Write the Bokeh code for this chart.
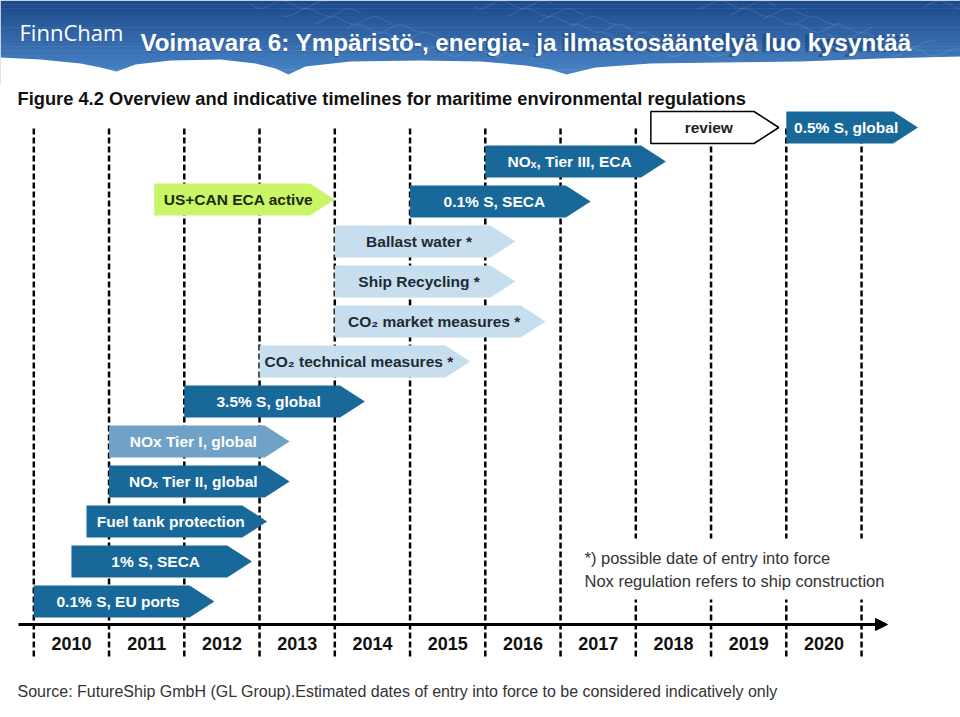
from bokeh.plotting import figure
from bokeh.models import Range1d, Arrow, NormalHead
from bokeh.core.properties import value
from bokeh.embed import file_html
from bokeh.resources import INLINE
import math

# ---------------- data ----------------
labels = ["0.1% S, EU ports", "1% S, SECA", "Fuel tank protection", "NOₓ Tier II, global",
          "NOx Tier I, global", "3.5% S, global", "CO₂ technical measures *",
          "CO₂ market measures *", "Ship Recycling *", "Ballast water *",
          "0.1% S, SECA", "US+CAN ECA active", "NOₓ, Tier III, ECA", "review", "0.5% S, global"]
start_year = [2010.0, 2010.5, 2010.7, 2011.0, 2011.0, 2012.0, 2013.0,
              2014.0, 2014.0, 2014.0, 2015.0, 2011.6, 2016.0, 2018.2, 2020.0]
end_year = [2012.4, 2012.9, 2013.1, 2013.4, 2013.4, 2014.4, 2015.8,
            2016.8, 2016.4, 2016.4, 2017.4, 2014.0, 2018.4, 2019.9, 2021.75]
row = [0, 1, 2, 3, 4, 5, 6, 7, 8, 9, 10, 10.05, 11, 11.85, 11.85]
status = ["adopted", "adopted", "adopted", "adopted", "tier1", "adopted", "possible",
          "possible", "possible", "possible", "adopted", "regional", "adopted", "review", "adopted"]
grid_years = list(range(2010, 2022))
year_labels = [str(y) for y in range(2010, 2021)]

title = "Voimavara 6: Ympäristö-, energia- ja ilmastosääntelyä luo kysyntää"
fig_title = "Figure 4.2 Overview and indicative timelines for maritime environmental regulations"
note_lines = ["*) possible date of entry into force", "Nox regulation refers to ship construction"]
source = "Source: FutureShip GmbH (GL Group).Estimated dates of entry into force to be considered indicatively only"

# ---------------- styles ----------------
fill = {"adopted": "#19689a", "tier1": "#6fa2c6", "possible": "#c6deee",
        "regional": "#c9f566", "review": "#ffffff"}
txt = {"adopted": "#ffffff", "tier1": "#ffffff", "possible": "#1e2a33",
       "regional": "#1d2a10", "review": "#222222"}
SANS = value("Liberation Sans")

def X(px):
    return 2010 + (px - 33.3) / 75.25

def Y(py):
    return (601 - py) / 40.0

p = figure(width=960, height=717, output_backend="svg", toolbar_location=None,
           x_range=Range1d(X(0), X(960)), y_range=Range1d(Y(717), Y(0)),
           x_axis_type=None, y_axis_type=None, min_border=0,
           outline_line_color=None, background_fill_color="white", border_fill_color="white")
p.grid.visible = False

# ---------------- banner ----------------
def lerp(c1, c2, t):
    a = [int(c1[i:i + 2], 16) for i in (1, 3, 5)]
    b = [int(c2[i:i + 2], 16) for i in (1, 3, 5)]
    return "#%02x%02x%02x" % tuple(int(a[k] + (b[k] - a[k]) * t) for k in range(3))

nb = 22
for i in range(nb):
    y0 = i * 84 / nb
    y1 = (i + 1) * 84 / nb
    p.quad(left=X(0), right=X(960), top=Y(y0), bottom=Y(y1 + 0.5),
           color=lerp("#1d4a8a", "#4f8ccf", i / (nb - 1)), line_color=None)

# faint texture strokes
for k in range(22):
    xs0 = 250 + k * 32
    p.line([X(xs0 + j * 6) for j in range(14)],
           [Y(4 + k % 7 * 8 + 4 * math.sin(j * 0.9 + k)) for j in range(14)],
           line_color="white", line_alpha=0.13, line_width=1)

edge = [(0, 57), (40, 59), (80, 63), (100, 67), (116, 71), (135, 64), (170, 60), (220, 59),
        (255, 63), (275, 68), (288, 74), (305, 66), (350, 61), (420, 60), (480, 61),
        (525, 65), (550, 69), (566, 74), (595, 67), (650, 63), (720, 62), (800, 61),
        (880, 58), (960, 56)]
bx = [X(e[0]) for e in edge] + [X(960), X(0)]
by = [Y(e[1]) for e in edge] + [Y(90), Y(90)]
p.patch(bx, by, color="white", line_color=None)

p.text(x=[X(19)], y=[Y(31)], text=["FinnCham"], text_color="white",
       text_font=value("Open Sans"), text_font_size="22px", text_baseline="alphabetic")
p.text(x=[X(141)], y=[Y(43)], text=[title], text_color="#15305a", text_alpha=0.45,
       text_font=SANS, text_font_style="bold", text_font_size="24px", text_baseline="alphabetic")
p.text(x=[X(140)], y=[Y(42)], text=[title], text_color="white",
       text_font=SANS, text_font_style="bold", text_font_size="24.2px", text_baseline="alphabetic")

# ---------------- figure title ----------------
p.text(x=[X(17)], y=[Y(98)], text=[fig_title], text_color="#111111",
       text_font=SANS, text_font_style="bold", text_font_size="18.3px", text_baseline="middle")

# ---------------- grid lines ----------------
p.segment(x0=grid_years, y0=[Y(128)] * len(grid_years), x1=grid_years,
          y1=[Y(657)] * len(grid_years), line_color="black", line_width=2.5, line_dash="6 3")

# white gap behind footnote
p.quad(left=X(577), right=X(895), top=Y(538), bottom=Y(599), color="white", line_color=None)

# ---------------- arrows ----------------
HEAD = 0.33
H = 0.4
xs, ys, fc, lc = [], [], [], []
tx, ty, tc = [], [], []
for s, e, r, st in zip(start_year, end_year, row, status):
    b = e - HEAD
    xs.append([s, b, e, b, s])
    ys.append([r + H, r + H, r, r - H, r - H])
    fc.append(fill[st])
    lc.append("black" if st == "review" else None)
    tx.append((s + e) / 2 - 0.08)
    ty.append(r)
    tc.append(txt[st])
p.patches(xs, ys, fill_color=fc, line_color=lc, line_width=1.5)
p.text(x=tx, y=ty, text=labels, text_color=tc, text_font=SANS, text_font_style="bold",
       text_font_size="15.5px", text_align="center", text_baseline="middle")

# ---------------- time axis ----------------
p.add_layout(Arrow(end=NormalHead(size=12, fill_color="black", line_color="black"),
                   x_start=X(18), y_start=Y(624), x_end=X(887), y_end=Y(624),
                   line_color="black", line_width=3))
p.text(x=[y + 0.5 for y in range(2010, 2021)], y=[Y(643)] * len(year_labels), text=year_labels,
       text_color="#111111", text_font=SANS, text_font_style="bold", text_font_size="18px",
       text_align="center", text_baseline="middle")

# ---------------- notes ----------------
p.text(x=[X(584)] * 2, y=[Y(557), Y(580)], text=note_lines, text_color="#333333",
       text_font=SANS, text_font_size="16.5px", text_baseline="middle")
p.text(x=[X(17)], y=[Y(691)], text=[source], text_color="#333333",
       text_font=SANS, text_font_size="16px", text_baseline="middle")

open("out.html", "w").write(file_html(p, INLINE))
